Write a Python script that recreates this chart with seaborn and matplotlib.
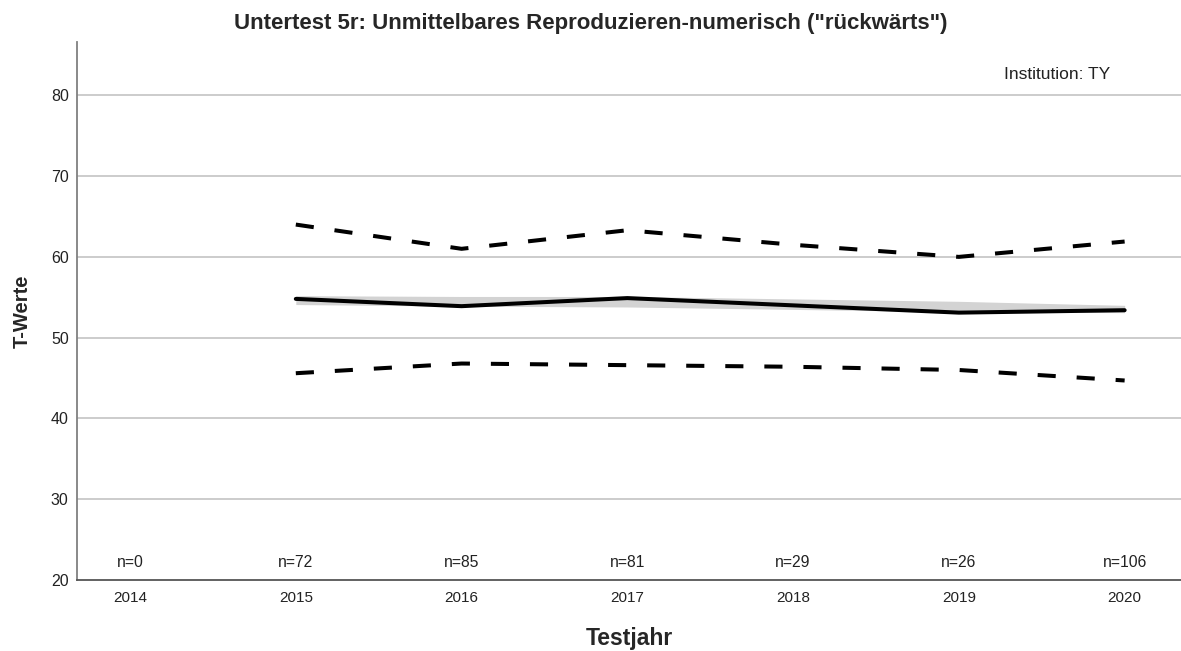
import pandas as pd
import matplotlib.pyplot as plt
import seaborn as sns

years = [2014, 2015, 2016, 2017, 2018, 2019, 2020]
n_counts = [0, 72, 85, 81, 29, 26, 106]

# values only for years with data (2015-2020)
data_years = [2015, 2016, 2017, 2018, 2019, 2020]
mean_t = [54.8, 53.9, 54.9, 54.0, 53.1, 53.4]
upper_t = [64.0, 61.0, 63.3, 61.5, 60.0, 61.9]
lower_t = [45.6, 46.8, 46.6, 46.4, 46.0, 44.7]
band_low = [54.1, 53.9, 53.8, 53.5, 53.2, 53.1]
band_high = [55.2, 55.1, 55.1, 54.8, 54.5, 54.0]


def plot_chart():
    sns.set_style("white")
    plt.rcParams['font.family'] = ['Liberation Sans', 'DejaVu Sans']

    fig = plt.figure(figsize=(11.81, 6.51), dpi=100)
    ax = fig.add_axes([0.0652, 0.109, 0.9348, 0.8265])

    df = pd.DataFrame({'Testjahr': data_years, 'mean': mean_t,
                       'upper': upper_t, 'lower': lower_t})

    ax.fill_between(data_years, band_low, band_high, color='#d3d3d3', lw=0, zorder=2)
    sns.lineplot(data=df, x='Testjahr', y='mean', ax=ax, color='black', lw=2.9, zorder=4)
    sns.lineplot(data=df, x='Testjahr', y='upper', ax=ax, color='black', lw=2.9,
                 dashes=(4.5, 5.2), zorder=3)
    sns.lineplot(data=df, x='Testjahr', y='lower', ax=ax, color='black', lw=2.9,
                 dashes=(4.5, 5.2), zorder=3)

    for yr, n in zip(years, n_counts):
        ax.text(yr, 22.2, f"n={n}", ha='center', va='center', fontsize=11.3, color='#222222')

    ax.text(2019.59, 82.6, "Institution: TY", ha='center', va='center', fontsize=12.5,
            color='#222222')

    ax.set_xlim(2013.68, 2020.34)
    ax.set_ylim(20, 86.6)
    ax.set_xticks(years)
    ax.set_xticklabels([str(y) for y in years], fontsize=11)
    ax.set_yticks([20, 30, 40, 50, 60, 70, 80])
    ax.set_yticklabels(['20', '30', '40', '50', '60', '70', '80'], fontsize=11.5)
    ax.tick_params(axis='x', length=0, pad=8, colors='#222222')
    ax.tick_params(axis='y', length=0, pad=6, colors='#222222')

    for yv in [30, 40, 50, 60, 70, 80]:
        ax.axhline(yv, color='#c8c8c8', lw=1.3, zorder=1)

    sns.despine(ax=ax, top=True, right=True)
    ax.spines['left'].set_color('#808080')
    ax.spines['left'].set_linewidth(1.3)
    ax.spines['bottom'].set_color('#555555')
    ax.spines['bottom'].set_linewidth(1.3)

    ax.set_title('Untertest 5r: Unmittelbares Reproduzieren-numerisch ("rückwärts")',
                 fontsize=16, fontweight='bold', pad=9, x=0.465)
    ax.set_xlabel('Testjahr', fontsize=16.5, fontweight='bold', labelpad=16)
    ax.set_ylabel('T-Werte', fontsize=14.5, fontweight='bold', labelpad=14)

    fig.savefig('out.png', dpi=100)
    plt.close(fig)


if __name__ == "__main__":
    plot_chart()
